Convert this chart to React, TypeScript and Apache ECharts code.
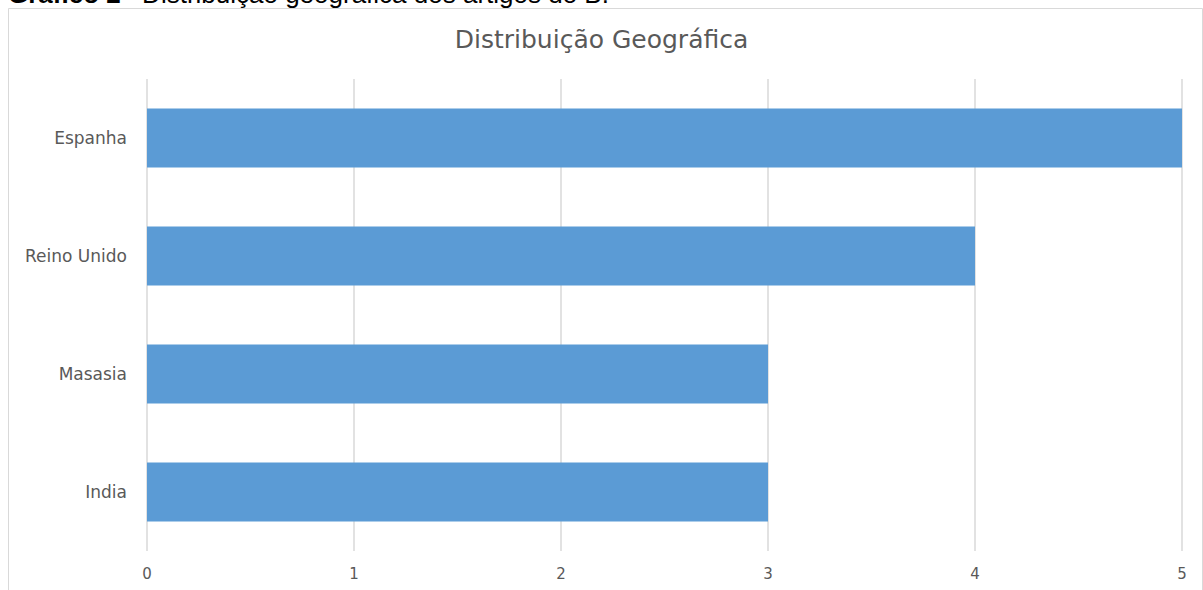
import React, { useEffect, useRef } from "react";
import * as echarts from "echarts";

const categories = ["Espanha", "Reino Unido", "Masasia", "India"];
const values = [5, 4, 3, 3];
const chartTitle = "Distribuição Geográfica";
const captionBold = "Gráfico 2";
const captionRest = " - Distribuição geográfica dos artigos do B.";

export default function App() {
  const ref = useRef<HTMLDivElement>(null);
  useEffect(() => {
    if (!ref.current) return;
    const chart = echarts.init(ref.current, undefined, { renderer: "svg" });
    chart.setOption({
      animation: false,
      backgroundColor: "#ffffff",
      title: {
        text: chartTitle,
        left: "center",
        top: 22,
        padding: [5, 0, 5, 26],
        textStyle: {
          fontFamily: "DejaVu Sans",
          fontSize: 25,
          fontWeight: "normal",
          color: "#595959",
        },
      },
      graphic: [
        {
          type: "rect",
          shape: { x: 8.5, y: 8.5, width: 1194, height: 600 },
          style: { fill: "none", stroke: "#d9d9d9", lineWidth: 1 },
          silent: true,
        },
        {
          type: "text",
          x: 8,
          y: 7,
          style: {
            text: captionBold,
            font: "bold 26px 'Liberation Sans', Arial, sans-serif",
            fill: "#000000",
            textVerticalAlign: "bottom",
          },
        },
        {
          type: "text",
          x: 119,
          y: 7,
          style: {
            text: captionRest,
            font: "26px 'Liberation Sans', Arial, sans-serif",
            fill: "#000000",
            textVerticalAlign: "bottom",
          },
        },
      ],
      grid: { left: 147, right: 21, top: 79, bottom: 39, containLabel: false },
      xAxis: {
        type: "value",
        min: 0,
        max: 5,
        interval: 1,
        axisLine: { show: false },
        axisTick: { show: false },
        splitLine: { show: true, lineStyle: { color: "#d9d9d9", width: 1.5 } },
        axisLabel: {
          color: "#595959",
          fontFamily: "DejaVu Sans",
          fontSize: 15,
          margin: 15,
        },
      },
      yAxis: {
        type: "category",
        data: categories,
        inverse: true,
        axisLine: { show: false },
        axisTick: { show: false },
        axisLabel: {
          color: "#595959",
          fontFamily: "DejaVu Sans",
          fontSize: 17,
          margin: 20,
        },
      },
      series: [
        {
          type: "bar",
          data: values,
          barCategoryGap: "50%",
          itemStyle: { color: "#5b9bd5" },
        },
      ],
    });
    return () => chart.dispose();
  }, []);
  return (
    <div
      ref={ref}
      style={{ position: "absolute", left: 0, top: 0, width: 1203, height: 590 }}
    />
  );
}
